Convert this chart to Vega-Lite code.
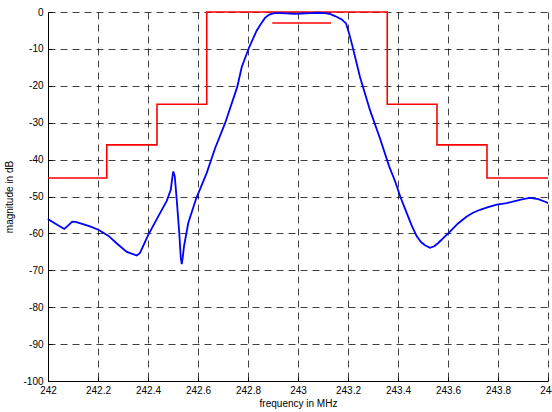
{
  "$schema": "https://vega.github.io/schema/vega-lite/v6.json",
  "width": 500,
  "height": 369,
  "autosize": "none",
  "padding": {"left": 48, "top": 12, "right": 4, "bottom": 31},
  "background": "white",
  "config": {
    "view": {"stroke": null},
    "font": "Liberation Sans",
    "axis": {
      "labelFont": "Liberation Sans",
      "titleFont": "Liberation Sans",
      "labelFontSize": 10,
      "titleFontSize": 10,
      "titleFontWeight": "normal",
      "labelColor": "black",
      "titleColor": "black",
      "domainColor": "black",
      "domainWidth": 1,
      "grid": true,
      "gridColor": "black",
      "gridOpacity": 0.75,
      "gridDash": [7, 5],
      "gridWidth": 1,
      "ticks": true,
      "tickSize": -4,
      "tickColor": "black",
      "tickWidth": 1
    }
  },
  "datasets": {
    "response": [
      {"f": 242.0, "db": -56.0},
      {"f": 242.004, "db": -56.3},
      {"f": 242.035, "db": -57.6},
      {"f": 242.065, "db": -58.8},
      {"f": 242.08, "db": -57.9},
      {"f": 242.097, "db": -56.8},
      {"f": 242.11, "db": -56.9},
      {"f": 242.14, "db": -57.5},
      {"f": 242.168, "db": -58.1},
      {"f": 242.201, "db": -59.0},
      {"f": 242.241, "db": -60.6},
      {"f": 242.28, "db": -63.0},
      {"f": 242.315, "db": -65.0},
      {"f": 242.34, "db": -65.6},
      {"f": 242.355, "db": -66.0},
      {"f": 242.368, "db": -65.3},
      {"f": 242.385, "db": -62.8},
      {"f": 242.401, "db": -60.4},
      {"f": 242.441, "db": -55.4},
      {"f": 242.475, "db": -51.2},
      {"f": 242.491, "db": -48.2},
      {"f": 242.497, "db": -45.0},
      {"f": 242.501, "db": -43.2},
      {"f": 242.507, "db": -44.5},
      {"f": 242.515, "db": -50.9},
      {"f": 242.525, "db": -59.9},
      {"f": 242.531, "db": -66.5},
      {"f": 242.535, "db": -68.3},
      {"f": 242.539, "db": -66.5},
      {"f": 242.544, "db": -63.5},
      {"f": 242.561, "db": -57.2},
      {"f": 242.593, "db": -50.5},
      {"f": 242.635, "db": -43.6},
      {"f": 242.648, "db": -41.0},
      {"f": 242.668, "db": -37.0},
      {"f": 242.708, "db": -30.2},
      {"f": 242.757, "db": -20.3},
      {"f": 242.775, "db": -14.9},
      {"f": 242.805, "db": -9.5},
      {"f": 242.835, "db": -5.0},
      {"f": 242.852, "db": -3.2},
      {"f": 242.868, "db": -1.6},
      {"f": 242.885, "db": -0.7},
      {"f": 242.905, "db": -0.3},
      {"f": 242.93, "db": -0.3},
      {"f": 242.955, "db": -0.4},
      {"f": 242.981, "db": -0.5},
      {"f": 243.015, "db": -0.4},
      {"f": 243.048, "db": -0.3},
      {"f": 243.08, "db": -0.2},
      {"f": 243.108, "db": -0.3},
      {"f": 243.13, "db": -0.6},
      {"f": 243.148, "db": -1.1},
      {"f": 243.175, "db": -2.0},
      {"f": 243.192, "db": -3.1},
      {"f": 243.203, "db": -5.5},
      {"f": 243.215, "db": -8.5},
      {"f": 243.248, "db": -17.6},
      {"f": 243.288, "db": -26.6},
      {"f": 243.328, "db": -34.3},
      {"f": 243.365, "db": -41.9},
      {"f": 243.388, "db": -45.8},
      {"f": 243.41, "db": -50.2},
      {"f": 243.435, "db": -54.5},
      {"f": 243.455, "db": -57.9},
      {"f": 243.475, "db": -60.8},
      {"f": 243.493, "db": -62.4},
      {"f": 243.508, "db": -63.2},
      {"f": 243.528, "db": -63.9},
      {"f": 243.545, "db": -63.5},
      {"f": 243.561, "db": -62.6},
      {"f": 243.585, "db": -61.0},
      {"f": 243.608, "db": -59.5},
      {"f": 243.64, "db": -57.3},
      {"f": 243.675, "db": -55.4},
      {"f": 243.7, "db": -54.4},
      {"f": 243.728, "db": -53.6},
      {"f": 243.76, "db": -52.9},
      {"f": 243.795, "db": -52.2},
      {"f": 243.835, "db": -51.8},
      {"f": 243.875, "db": -51.1},
      {"f": 243.9, "db": -50.7},
      {"f": 243.928, "db": -50.4},
      {"f": 243.961, "db": -50.7},
      {"f": 243.991, "db": -51.5},
      {"f": 244.0, "db": -51.8}
    ],
    "mask": [
      {"f": 242.0, "db": -45},
      {"f": 242.235, "db": -36},
      {"f": 242.436, "db": -25},
      {"f": 242.635, "db": 0},
      {"f": 243.357, "db": -25},
      {"f": 243.556, "db": -36},
      {"f": 243.756, "db": -45},
      {"f": 244.0, "db": -45}
    ],
    "passband": [
      {"f": 242.897, "db": -3},
      {"f": 243.132, "db": -3}
    ]
  },
  "encoding": {
    "x": {
      "field": "f",
      "type": "quantitative",
      "scale": {"domain": [242, 244], "nice": false, "zero": false},
      "axis": {
        "title": "frequency in MHz",
        "values": [242, 242.2, 242.4, 242.6, 242.8, 243, 243.2, 243.4, 243.6, 243.8, 244],
        "labelExpr": "'' + datum.value",
        "labelPadding": 8,
        "titlePadding": 3,
        "labelFlush": false
      }
    },
    "y": {
      "field": "db",
      "type": "quantitative",
      "scale": {"domain": [-100, 0], "nice": false},
      "axis": {
        "title": "magnitude in dB",
        "values": [-100, -90, -80, -70, -60, -50, -40, -30, -20, -10, 0],
        "labelExpr": "'' + datum.value",
        "labelPadding": 9,
        "titlePadding": 8,
        "labelFlush": false
      }
    }
  },
  "layer": [
    {
      "data": {"name": "mask"},
      "mark": {"type": "line", "color": "#ff0000", "strokeWidth": 1.6, "interpolate": "step-after"}
    },
    {
      "data": {"name": "passband"},
      "mark": {"type": "line", "color": "#ff0000", "strokeWidth": 1.6}
    },
    {
      "data": {"name": "response"},
      "mark": {"type": "line", "color": "#0000ff", "strokeWidth": 1.8}
    }
  ]
}
